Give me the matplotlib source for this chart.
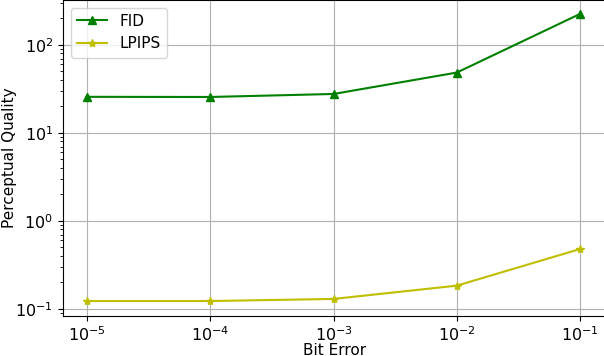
import matplotlib
matplotlib.use("Agg")
import matplotlib.pyplot as plt
from matplotlib.ticker import NullLocator

bit_error = [1e-5, 1e-4, 1e-3, 1e-2, 1e-1]
fid = [25.7, 25.6, 27.7, 48.5, 225]
lpips = [0.123, 0.123, 0.130, 0.184, 0.48]

fig = plt.figure(figsize=(6.04, 3.56), dpi=100)
ax = fig.add_axes([63/604, 40/356, 543/604, 316/356])
ax.plot(bit_error, fid, color='g', marker='^', label='FID')
ax.plot(bit_error, lpips, color='y', marker='*', label='LPIPS')
ax.set_xscale('log')
ax.set_yscale('log')
ax.set_xlim(10**-5.195, 10**-0.79)
ax.set_ylim(10**-1.08, 10**2.51)
ax.xaxis.set_minor_locator(NullLocator())
ax.grid(True, which='major')
ax.tick_params(labelsize=11.5)
ax.set_xlabel('Bit Error', fontsize=11, labelpad=-1)
ax.set_ylabel('Perceptual Quality', fontsize=11, labelpad=-1)
ax.legend(loc='upper left', fontsize=11)
fig.savefig('out.png', dpi=100)
